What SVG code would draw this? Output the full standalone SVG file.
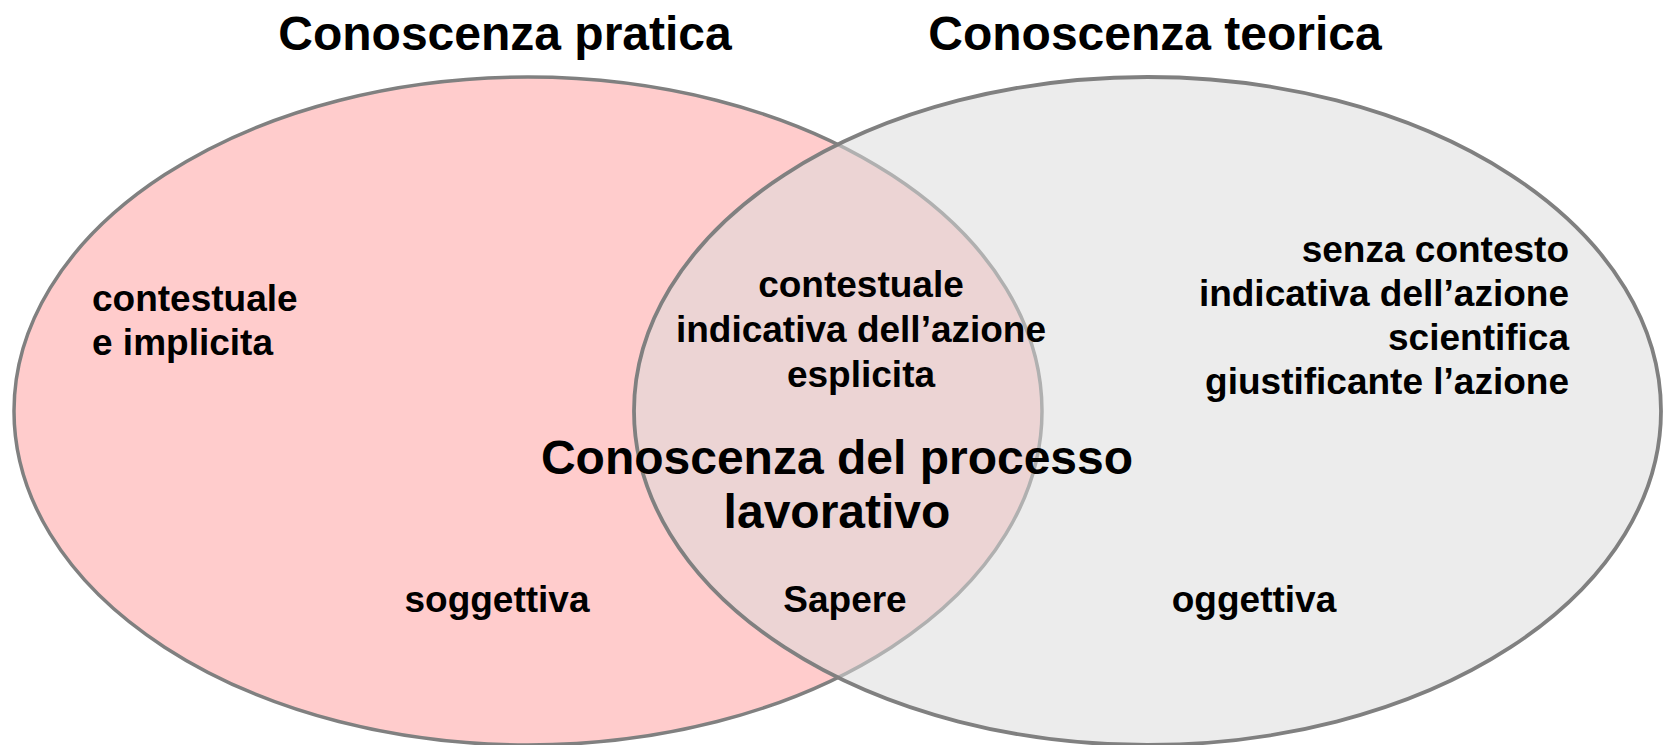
<svg xmlns="http://www.w3.org/2000/svg" width="1666" height="745" viewBox="0 0 1666 745">
<style>
text{font-family:"Liberation Sans",Arial,sans-serif;font-weight:bold;fill:#000}
.t{font-size:48px}
.b{font-size:37px}
.m{text-anchor:middle}
.r{text-anchor:end}
</style>
<rect width="1666" height="745" fill="#fff"/>
<g id="practical">
<ellipse cx="528" cy="411" rx="514" ry="334" fill="#FFCCCC" stroke="#808080" stroke-width="3.5"/>
</g>
<g id="theoretical">
<ellipse cx="1147.5" cy="411" rx="513.5" ry="334" fill="#DBDBDB" fill-opacity="0.53" stroke="#808080" stroke-width="3.8"/>
</g>
<g id="connectors"></g>
<g id="titles">
<text class="t m" x="505" y="50">Conoscenza pratica</text>
<text class="t m" x="1155" y="50">Conoscenza teorica</text>
</g>
<g id="left-labels">
<text class="b" x="92" y="311">contestuale</text>
<text class="b" x="92" y="355">e implicita</text>
<text class="b m" x="497" y="612">soggettiva</text>
</g>
<g id="middle-labels">
<text class="b m" x="861" y="297">contestuale</text>
<text class="b m" x="861" y="342">indicativa dell’azione</text>
<text class="b m" x="861" y="387">esplicita</text>
<text class="t m" x="837" y="474">Conoscenza del processo</text>
<text class="t m" x="837" y="528">lavorativo</text>
<text class="b m" x="845" y="612">Sapere</text>
</g>
<g id="right-labels">
<text class="b r" x="1569" y="262">senza contesto</text>
<text class="b r" x="1569" y="306">indicativa dell’azione</text>
<text class="b r" x="1569" y="350">scientifica</text>
<text class="b r" x="1569" y="394">giustificante l’azione</text>
<text class="b m" x="1254" y="612">oggettiva</text>
</g>
</svg>
